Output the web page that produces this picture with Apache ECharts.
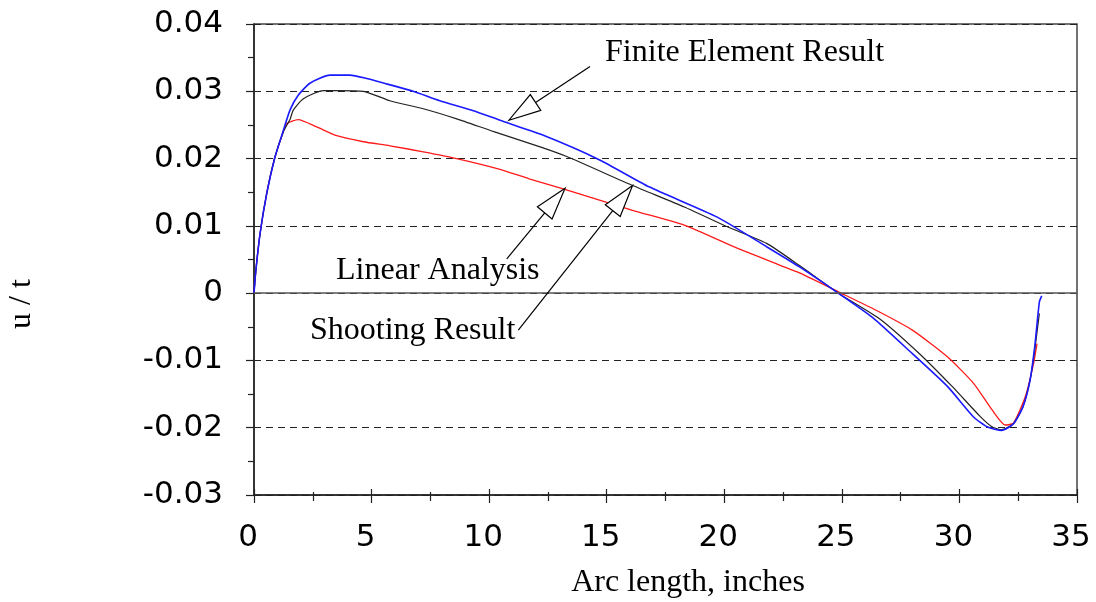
<!DOCTYPE html>
<html>
<head>
<meta charset="utf-8">
<script src="https://cdn.jsdelivr.net/npm/echarts@6/dist/echarts.min.js"></script>
<style>
  html, body { margin: 0; padding: 0; background: #fff; }
  #chart { width: 1096px; height: 602px; }
</style>
</head>
<body>
<div id="chart"></div>
<script>
// arc length (inches) and u/t for each result
const feX = [0, 0.08, 0.26, 0.54, 0.89, 1.25, 1.53, 1.88, 2.38, 3.23, 4.08, 4.79, 5.64, 6.77, 7.9, 9.33, 10.46, 12.2, 14.7, 16.8, 19.7, 21.8, 23.2, 24.85, 26.3, 28.0, 29.5, 30.6, 31.2, 31.8, 32.3, 32.7, 33.0, 33.2, 33.4, 33.5];
const feY = [0, 0.0034, 0.0089, 0.0148, 0.0202, 0.0242, 0.0272, 0.0294, 0.0312, 0.0324, 0.0324, 0.0319, 0.0311, 0.0300, 0.0286, 0.0271, 0.0257, 0.0236, 0.0198, 0.0158, 0.0113, 0.0069, 0.0039, 0, -0.0036, -0.0090, -0.0139, -0.0184, -0.0199, -0.0204, -0.0194, -0.0169, -0.0130, -0.0080, -0.0013, -0.0004];

const shootX = [0, 0.08, 0.26, 0.54, 0.89, 1.25, 1.53, 1.67, 2.1, 2.95, 3.52, 4.65, 5.78, 7.2, 8.62, 10.2, 12.2, 13.3, 16.1, 18.3, 20.1, 21.8, 23.2, 24.85, 26.6, 28.3, 29.7, 30.9, 31.4, 31.8, 32.3, 32.7, 33.0, 33.2, 33.4];
const shootY = [0, 0.0034, 0.0089, 0.0148, 0.0202, 0.0240, 0.0258, 0.0272, 0.0289, 0.0301, 0.0301, 0.0300, 0.0286, 0.0274, 0.0259, 0.0240, 0.0217, 0.0203, 0.0160, 0.0128, 0.0099, 0.0074, 0.0041, 0, -0.0038, -0.0090, -0.0139, -0.0184, -0.0199, -0.0203, -0.0194, -0.0169, -0.0130, -0.0085, -0.0030];

const linX = [0, 0.08, 0.26, 0.54, 0.89, 1.25, 1.39, 1.88, 2.67, 3.52, 4.65, 5.78, 7.2, 8.62, 10.46, 11.7, 13.15, 16.1, 18.3, 20.4, 22.4, 23.2, 24.85, 26.6, 28.0, 29.5, 30.6, 31.4, 31.95, 32.3, 32.8, 33.15, 33.3];
const linY = [0, 0.0034, 0.0089, 0.0148, 0.0202, 0.0240, 0.0252, 0.0258, 0.0247, 0.0234, 0.0225, 0.0219, 0.0210, 0.0200, 0.0184, 0.0170, 0.0155, 0.0123, 0.0101, 0.0069, 0.0041, 0.0030, 0.0002, -0.0028, -0.0055, -0.0095, -0.0134, -0.0174, -0.0196, -0.0193, -0.0154, -0.0105, -0.0075];

// annotations: text (left, middle), arrow tail and tip, in data units
const noteText = ['Finite Element Result', 'Linear Analysis', 'Shooting Result'];
const noteAt = [[14.93, 0.0358], [3.49, 0.0033], [2.38, -0.0056]];
const arrowTail = [[14.29, 0.0337], [10.75, 0.0051], [11.24, -0.0055]];
const arrowTip = [[10.84, 0.0257], [13.23, 0.0156], [16.1, 0.0160]];

const pairs = (xs, ys) => xs.map((x, i) => [x, ys[i]]);

const tickFont = 'DejaVu Sans';
const serif = 'Liberation Serif';

const curve = (name, xs, ys, color, width) => ({
    name: name,
    type: 'line',
    data: pairs(xs, ys),
    showSymbol: false,
    smooth: 0.2,
    z: 3,
    animation: false,
    lineStyle: { color: color, width: width }
});

const option = {
    animation: false,
    backgroundColor: '#fff',
    grid: {
        left: 254, right: 19, top: 24, bottom: 107,
        show: true,
        borderColor: '#444',
        borderWidth: 1.5,
        outerBoundsMode: 'none'
    },
    xAxis: [
        {
            type: 'value',
            min: 0, max: 35, interval: 5,
            position: 'bottom',
            axisLine: { show: true, onZero: false, lineStyle: { color: '#222', width: 1.5 } },
            axisTick: { show: true, length: 8, lineStyle: { color: '#222', width: 1.2 } },
            minorTick: { show: true, splitNumber: 2, length: 6, lineStyle: { color: '#222', width: 1.2 } },
            splitLine: { show: false },
            axisLabel: {
                color: '#000', fontFamily: tickFont, fontSize: 31, margin: 27,
                padding: [0, 12, 0, 0]
            }
        },
        {
            // inner half of the crossing ticks
            type: 'value',
            min: 0, max: 35, interval: 5,
            position: 'bottom',
            axisLine: { show: false, onZero: false },
            axisTick: { show: true, inside: true, length: 6, lineStyle: { color: '#222', width: 1.2 } },
            minorTick: { show: true, splitNumber: 2, length: 3, lineStyle: { color: '#222', width: 1.2 } },
            splitLine: { show: false },
            axisLabel: { show: false }
        }
    ],
    yAxis: {
        type: 'value',
        min: -0.03, max: 0.04, interval: 0.01,
        axisLine: { show: true, onZero: false, lineStyle: { color: '#222', width: 1.5 } },
        axisTick: { show: true, length: 8, lineStyle: { color: '#222', width: 1.2 } },
        minorTick: { show: true, splitNumber: 2, length: 6, lineStyle: { color: '#222', width: 1.2 } },
        splitLine: { show: true, lineStyle: { color: '#222', width: 1.2, type: [7, 5] } },
        axisLabel: {
            color: '#000', fontFamily: tickFont, fontSize: 31, margin: 31,
            formatter: (v) => String(Math.round(v * 100) / 100)
        }
    },
    series: [
        {
            name: 'zero',
            type: 'line',
            data: [],
            z: 2,
            markLine: {
                silent: true,
                symbol: 'none',
                label: { show: false },
                lineStyle: { color: '#555', width: 1.5, type: 'solid' },
                data: [{ yAxis: 0 }]
            }
        },
        curve('Linear Analysis', linX, linY, '#ff1a1a', 1.3),
        curve('Shooting Result', shootX, shootY, '#222', 1.2),
        curve('Finite Element Result', feX, feY, '#1a1aff', 1.6)
    ]
};

const chart = echarts.init(document.getElementById('chart'), null, { renderer: 'canvas' });
chart.setOption(option);

// axis names and annotation arrows
const graphics = [
    {
        type: 'text', x: 688, y: 583,
        style: { text: 'Arc length, inches', font: '32px "' + serif + '"', fill: '#000', textAlign: 'center', textVerticalAlign: 'middle' }
    },
    {
        type: 'text', x: 22, y: 304, rotation: Math.PI / 2,
        style: { text: 'u / t', font: '32px "' + serif + '"', fill: '#000', textAlign: 'center', textVerticalAlign: 'middle' }
    }
];

noteText.forEach((txt, i) => {
    const at = chart.convertToPixel({ gridIndex: 0 }, noteAt[i]);
    const tail = chart.convertToPixel({ gridIndex: 0 }, arrowTail[i]);
    const tip = chart.convertToPixel({ gridIndex: 0 }, arrowTip[i]);
    const dx = tail[0] - tip[0], dy = tail[1] - tip[1];
    const len = Math.sqrt(dx * dx + dy * dy);
    const ux = dx / len, uy = dy / len;
    const headLen = 32, headHalf = 9.5;
    const bx = tip[0] + ux * headLen, by = tip[1] + uy * headLen;
    graphics.push({
        type: 'text', x: at[0], y: at[1], z: 10,
        style: { text: txt, font: '32px "' + serif + '"', fill: '#000', textAlign: 'left', textVerticalAlign: 'middle' }
    });
    graphics.push({
        type: 'line', z: 10,
        shape: { x1: tail[0], y1: tail[1], x2: bx, y2: by },
        style: { stroke: '#000', lineWidth: 1.2 }
    });
    graphics.push({
        type: 'polygon', z: 10,
        shape: { points: [tip, [bx - uy * headHalf, by + ux * headHalf], [bx + uy * headHalf, by - ux * headHalf]] },
        style: { fill: '#fff', stroke: '#000', lineWidth: 1.2 }
    });
});

chart.setOption({ graphic: graphics });
</script>
</body>
</html>
